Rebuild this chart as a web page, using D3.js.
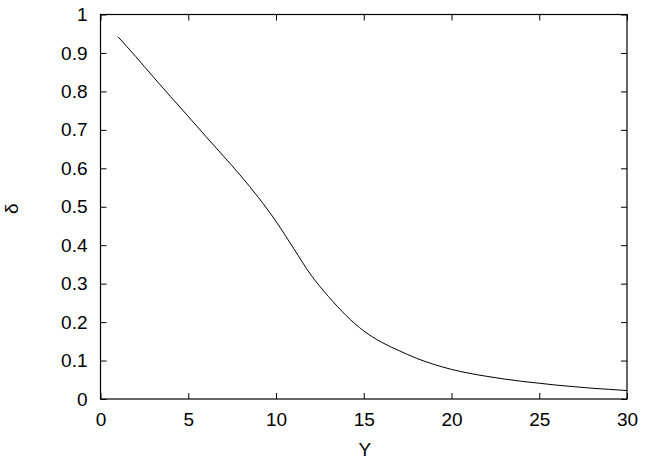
<!DOCTYPE html>
<html>
<head>
<meta charset="utf-8">
<script src="https://cdn.jsdelivr.net/npm/d3@7"></script>
<style>
  body { margin: 0; background: #fff; }
  text { font-family: "Liberation Sans", Arial, sans-serif; font-size: 19px; fill: #000; }
</style>
</head>
<body>
<svg id="chart" width="647" height="464"></svg>
<script>
// curve samples
const yValues = [1, 2, 3, 4, 5, 6, 7, 8, 9, 10, 11, 12, 13, 14, 15,
  16, 17, 18, 19, 20, 21, 22, 23, 24, 25, 26, 27, 28, 29, 30]
const deltaValues = [0.942, 0.891, 0.838, 0.786, 0.735, 0.683, 0.632, 0.580, 0.524, 0.462,
  0.392, 0.322, 0.266, 0.217, 0.177, 0.148, 0.126, 0.106, 0.090, 0.077,
  0.067, 0.059, 0.052, 0.046, 0.041, 0.036, 0.032, 0.028, 0.025, 0.022]
const xTicks = [0, 5, 10, 15, 20, 25, 30]
const yTicks = [0, 0.1, 0.2, 0.3, 0.4, 0.5, 0.6, 0.7, 0.8, 0.9, 1]

const MARGIN = {top: 14.5, right: 20, bottom: 65, left: 100.5}
const W = 647, H = 464
const TICK = 6

let svg = d3.select('#chart')
let xScale = d3.scaleLinear().domain([0, 30]).range([MARGIN.left, W - MARGIN.right])
let yScale = d3.scaleLinear().domain([0, 1]).range([H - MARGIN.bottom, MARGIN.top])

// inward ticks on all four sides, gnuplot style
let xAxis = d3.axisBottom(xScale).tickValues(xTicks).tickSize(-TICK).tickPadding(14).tickFormat(d3.format('d'))
let xTop = d3.axisTop(xScale).tickValues(xTicks).tickSize(-TICK).tickFormat('')
let yAxis = d3.axisLeft(yScale).tickValues(yTicks).tickSize(-TICK).tickPadding(13).tickFormat(d => d === 0 || d === 1 ? d : d.toFixed(1))
let yRight = d3.axisRight(yScale).tickValues(yTicks).tickSize(-TICK).tickFormat('')

function styleAxis(g) {
  g.select('.domain').remove()
  g.selectAll('.tick line').attr('stroke', '#000').attr('stroke-width', 1)
  g.selectAll('.tick text').attr('fill', '#000').style('font-size', '19px')
    .style('font-family', '"Liberation Sans", Arial, sans-serif')
}

svg.append('g').attr('transform', 'translate(0,' + yScale(0) + ')').call(xAxis).call(styleAxis)
svg.append('g').attr('transform', 'translate(0,' + yScale(1) + ')').call(xTop).call(styleAxis)
svg.append('g').attr('transform', 'translate(' + xScale(0) + ',0)').call(yAxis).call(styleAxis)
svg.append('g').attr('transform', 'translate(' + xScale(30) + ',0)').call(yRight).call(styleAxis)

svg.append('rect')
  .attr('x', xScale(0))
  .attr('y', yScale(1))
  .attr('width', xScale(30) - xScale(0))
  .attr('height', yScale(0) - yScale(1))
  .attr('fill', 'none')
  .attr('stroke', '#000')
  .attr('stroke-width', 1.2)

let line = d3.line()
  .x((d, i) => xScale(yValues[i]))
  .y(d => yScale(d))
  .curve(d3.curveMonotoneX)

svg.append('path')
  .datum(deltaValues)
  .attr('d', line)
  .attr('fill', 'none')
  .attr('stroke', '#000')
  .attr('stroke-width', 1)

svg.append('text')
  .attr('x', (xScale(0) + xScale(30)) / 2 + 1)
  .attr('y', 456)
  .attr('text-anchor', 'middle')
  .text('Y')

svg.append('text')
  .attr('transform', 'translate(17.5,' + (yScale(0.5) + 2) + ') rotate(-90)')
  .attr('text-anchor', 'middle')
  .text('δ')
</script>
</body>
</html>
